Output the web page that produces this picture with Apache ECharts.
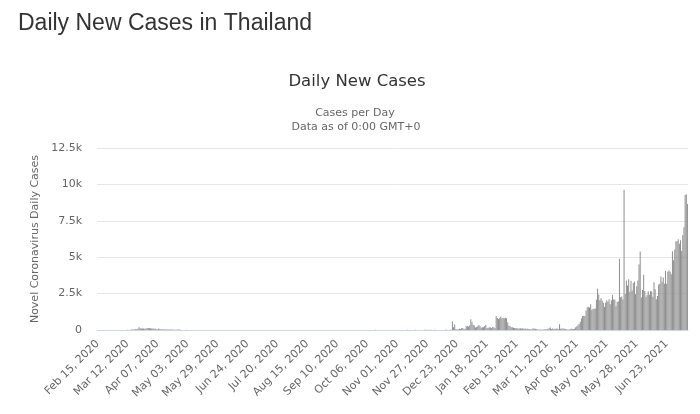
<!DOCTYPE html>
<html>
<head>
<meta charset="utf-8">
<script src="https://cdn.jsdelivr.net/npm/echarts@6/dist/echarts.min.js"></script>
<style>
html,body{margin:0;padding:0;background:#fff;}
#chart{width:700px;height:414px;}
</style>
</head>
<body>
<div id="chart"></div>
<script>
// First category date and label settings
const startDate = [2020, 1, 15]; // Feb 15, 2020 (month is 0-based)
const yTicks = [0, 2500, 5000, 7500, 10000, 12500];

// Daily new cases, by month (estimated from the chart)
const feb2020 = [0,0,1,0,0,0,0,0,0,2,2,3,0,0,2];
const mar2020 = [0,1,0,0,4,1,2,0,0,3,0,11,5,7,32,33,30,35,60,50,89,188,122,106,107,111,91,109,143,136,127];
const apr2020 = [120,104,103,89,102,51,38,111,54,50,45,33,28,34,30,29,28,33,32,27,19,15,13,15,53,15,9,7,7,6];
const may2020 = [6,18,6,3,1,1,0,3,0,5,2,3,0,0,7,3,0,3,1,0,3,0,0,2,1,2,3,1,1,3,1];
const jun2020 = [0,1,2,0,1,2,3,0,0,1,0,0,3,4,0,0,1,0,0,3,0,0,3,0,4,0,4,0,1,0];
const jul2020 = [0,0,2,0,6,8,0,4,0,2,1,0,3,0,1,3,1,1,0,4,1,0,0,3,0,2,0,2,2,0,2];
const aug2020 = [3,0,2,2,5,2,0,0,6,2,0,7,6,2,4,0,1,5,3,2,0,1,5,0,3,1,0,2,0,1,3];
const sep2020 = [0,4,1,0,0,2,3,0,0,7,0,4,0,3,0,2,4,4,1,0,5,2,0,1,0,3,3,2,0,5];
const oct2020 = [3,0,5,2,7,4,6,0,0,2,1,5,9,0,5,4,1,3,0,2,1,4,3,1,6,5,0,7,7,3,1];
const nov2020 = [5,3,4,3,5,3,4,1,3,9,4,5,3,7,7,1,13,4,6,4,3,8,6,7,10,9,10,8,16,7];
const dec2020 = [9,4,1,11,7,5,8,2,2,8,7,4,11,11,7,5,15,10,576,188,382,46,44,39,110,64,121,144,45,81,250];
const jan2021 = [279,216,315,745,527,365,305,178,212,249,339,250,157,188,184,267,369,142,146,171,187,116,198,194,130,959,819,756,802,914,803];
const feb2021 = [835,809,849,812,526,286,267,187,190,160,144,121,143,104,95,114,84,112,86,97,84,79,56,58,49,55,121,85];
const mar2021 = [84,43,42,26,34,31,25,28,35,45,54,85,112,173,65,102,53,90,81,97,53,390,84,111,96,80,85,42,36,28,43];
const apr2021 = [89,84,54,84,194,250,334,405,559,789,967,985,965,1335,1543,1582,1547,1767,1390,1443,1458,1470,2070,2839,2438,2048,2179,2012,1871,1583];
const may2021 = [1891,2041,1940,2112,1763,2044,2419,2101,2101,1630,1919,1983,4887,2256,2302,2101,9635,2473,3394,3052,3481,2630,3382,2713,3226,3323,2455,3000,3400,4500,5400];
const jun2021 = [2230,2742,3800,2672,2290,2419,2662,2419,2680,2644,2290,3277,2804,2112,2331,3129,3174,3667,3309,3600,3175,4059,3174,4000,4108,3995,3826,5406,4786,5533];
const jul2021 = [6087,6087,6230,5916,6166,5420,6519,7058,9276,9326,8656];

const values = [].concat(feb2020, mar2020, apr2020, may2020, jun2020, jul2020, aug2020,
  sep2020, oct2020, nov2020, dec2020, jan2021, feb2021, mar2021, apr2021, may2021, jun2021, jul2021);

const monthNames = ['Jan','Feb','Mar','Apr','May','Jun','Jul','Aug','Sep','Oct','Nov','Dec'];
const categories = values.map(function (_, i) {
  const d = new Date(Date.UTC(startDate[0], startDate[1], startDate[2] + i));
  const dd = String(d.getUTCDate()).padStart(2, '0');
  return monthNames[d.getUTCMonth()] + ' ' + dd + ', ' + d.getUTCFullYear();
});

const chart = echarts.init(document.getElementById('chart'), null, {renderer: 'canvas'});
const chartFont = '"DejaVu Sans", sans-serif';
chart.setOption({
  animation: false,
  backgroundColor: '#ffffff',
  graphic: [
    {type: 'text', left: 18, top: 12, style: {text: 'Daily New Cases in Thailand', font: '23px "Liberation Sans", Arial, sans-serif', fill: '#333333'}},
    {type: 'text', x: 357, y: 82, style: {text: 'Daily New Cases', font: '16.5px ' + chartFont, fill: '#333333', align: 'center', verticalAlign: 'middle'}},
    {type: 'text', x: 355, y: 113, style: {text: 'Cases per Day', font: '11px ' + chartFont, fill: '#666666', align: 'center', verticalAlign: 'middle'}},
    {type: 'text', x: 356, y: 127, style: {text: 'Data as of 0:00 GMT+0', font: '11px ' + chartFont, fill: '#666666', align: 'center', verticalAlign: 'middle'}}
  ],
  grid: {left: 97, right: 12, top: 148, bottom: 84, containLabel: false},
  xAxis: {
    type: 'category',
    data: categories,
    boundaryGap: true,
    axisLine: {lineStyle: {color: '#ccd6eb', width: 1}},
    axisTick: {show: false},
    axisLabel: {interval: 25, rotate: 45, color: '#666666', fontSize: 11, fontFamily: 'DejaVu Sans', margin: 12}
  },
  yAxis: {
    type: 'value',
    min: yTicks[0],
    max: yTicks[yTicks.length - 1],
    interval: 2500,
    name: 'Novel Coronavirus Daily Cases',
    nameLocation: 'middle',
    nameGap: 49,
    nameTextStyle: {color: '#666666', fontSize: 11, fontFamily: 'DejaVu Sans'},
    axisLine: {show: false},
    axisTick: {show: false},
    splitLine: {lineStyle: {color: '#e6e6e6', width: 1}},
    axisLabel: {
      color: '#666666', fontSize: 11, fontFamily: 'DejaVu Sans', margin: 15,
      formatter: function (v) { return v === 0 ? '0' : (v / 1000) + 'k'; }
    }
  },
  series: [{
    type: 'bar',
    data: values,
    itemStyle: {color: '#8e8e8e'},
    barCategoryGap: '15%',
    large: false
  }]
});
</script>
</body>
</html>
